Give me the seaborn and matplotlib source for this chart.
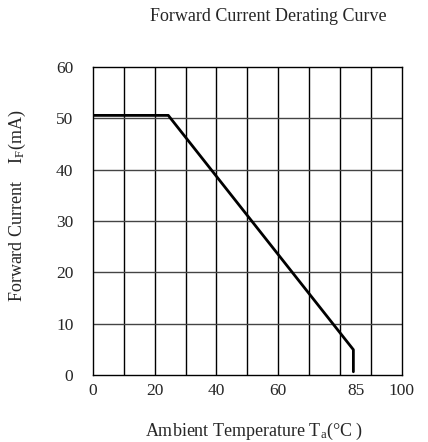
import matplotlib
matplotlib.use('Agg')
import matplotlib.pyplot as plt
import pandas as pd
import seaborn as sns

# Data
temperature = [0, 24.4, 84.3, 84.3]
current = [50.6, 50.6, 4.9, 0.6]
x_ticks = [0, 20, 40, 60, 85, 100]
y_ticks = [0, 10, 20, 30, 40, 50, 60]

df = pd.DataFrame({'temp': temperature, 'current': current})

sns.set_style('white')
plt.rcParams['font.family'] = ['Liberation Serif', 'DejaVu Serif']
plt.rcParams['mathtext.fontset'] = 'custom'
plt.rcParams['mathtext.rm'] = 'Liberation Serif'
plt.rcParams['mathtext.it'] = 'Liberation Serif'

fig = plt.figure(figsize=(4.28, 4.42), dpi=100)
ax = fig.add_axes([0.217, 0.152, 0.722, 0.696])

# Grid: vertical every 10, horizontal every 10
for v in range(10, 100, 10):
    ax.axvline(v, color='black', linewidth=1, zorder=1)
for h in range(10, 60, 10):
    ax.axhline(h, color='#444444', linewidth=1, zorder=1)

sns.lineplot(data=df, x='temp', y='current', color='black', linewidth=2,
             sort=False, estimator=None, ax=ax, zorder=3)

ax.set_xlim(0, 100)
ax.set_ylim(0, 60)
ax.set_xticks(x_ticks)
ax.set_yticks(y_ticks)
ax.tick_params(axis='both', length=0, labelsize=12.5)
ax.tick_params(axis='x', pad=6)
ax.tick_params(axis='y', pad=14)
for s in ax.spines.values():
    s.set_color('black')
    s.set_linewidth(1)

ax.set_xlabel(r'Ambient Temperature T$_\mathregular{a}$(°C )', fontsize=13)
ax.set_ylabel(r'Forward Current    I$_\mathregular{F}$(mA)', fontsize=13)
ax.xaxis.set_label_coords(0.52, -0.15)
ax.yaxis.set_label_coords(-0.21, 0.55)
fig.text(0.626, 0.962, 'Forward Current Derating Curve', fontsize=13,
         ha='center', va='center')

fig.savefig('out.png', dpi=100)
